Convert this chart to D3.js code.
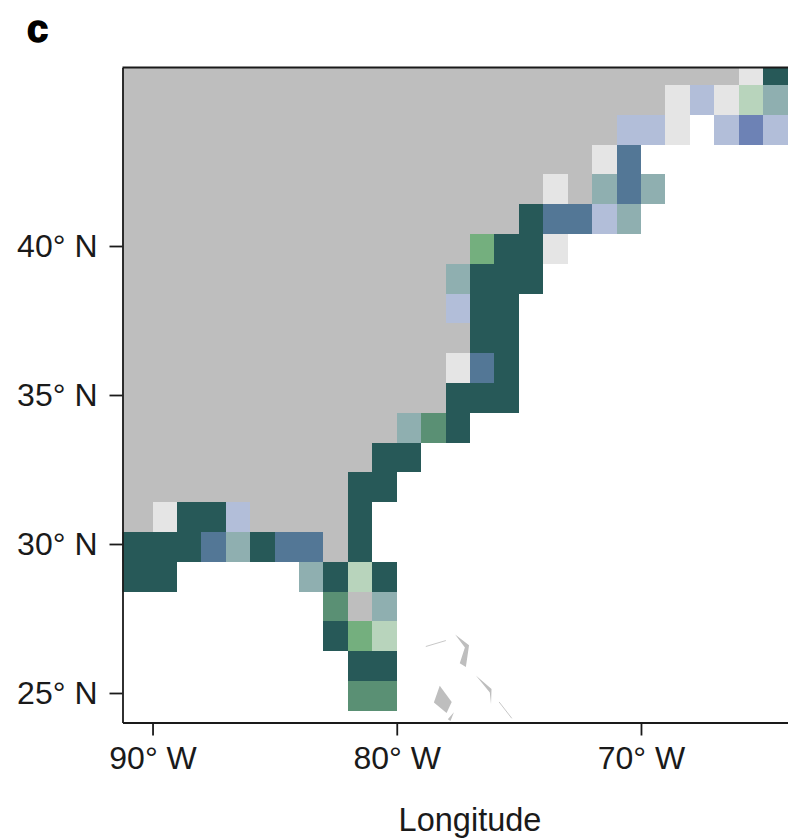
<!DOCTYPE html>
<html lang="en">
    <head>
        <meta charset="utf-8">
        <title>Panel c</title>
        <script src="https://d3js.org/d3.v7.min.js"></script>
        <style type="text/css">
            body { margin: 0; background: #fff; }
            svg { display: block; }
            text { font-family: "Liberation Sans", sans-serif; fill: #1a1a1a; }
            .axis path, .axis line { stroke: #1a1a1a; stroke-width: 1.8px; }
            .axis text { font-family: "Liberation Sans", sans-serif; font-size: 32px; fill: #1a1a1a; }
        </style>
    </head>
    <body>
        <script type="text/javascript">
            const w = 788;
            const h = 838;

            // tick labels
            const lonTicks = [-90, -80, -70];
            const latTicks = [25, 30, 35, 40];

            // grid cells as [west lon, south lat], one array per colour class
            const dark = [[-65, 45.4], [-75, 40.4], [-76, 39.4], [-75, 39.4], [-77, 38.4], [-76, 38.4], [-75, 38.4],
                [-77, 37.4], [-76, 37.4], [-77, 36.4], [-76, 36.4], [-76, 35.4], [-78, 34.4], [-77, 34.4], [-76, 34.4],
                [-78, 33.4], [-81, 32.4], [-80, 32.4], [-82, 31.4], [-81, 31.4], [-89, 30.4], [-88, 30.4], [-82, 30.4],
                [-92, 29.4], [-91, 29.4], [-90, 29.4], [-89, 29.4], [-86, 29.4], [-82, 29.4],
                [-92, 28.4], [-91, 28.4], [-90, 28.4], [-83, 28.4], [-81, 28.4], [-83, 26.4], [-82, 25.4], [-81, 25.4]];
            const midBlue = [[-71, 42.4], [-71, 41.4], [-74, 40.4], [-73, 40.4], [-77, 35.4], [-88, 29.4], [-85, 29.4], [-84, 29.4]];
            const lightBlue = [[-68, 44.4], [-71, 43.4], [-70, 43.4], [-67, 43.4], [-65, 43.4], [-72, 40.4], [-78, 37.4], [-87, 30.4]];
            const deepBlue = [[-66, 43.4]];
            const teal = [[-65, 44.4], [-72, 41.4], [-70, 41.4], [-71, 40.4], [-78, 38.4], [-80, 33.4], [-87, 29.4], [-84, 28.4], [-81, 27.4]];
            const pale = [[-66, 45.4], [-69, 44.4], [-67, 44.4], [-69, 43.4], [-72, 42.4], [-74, 41.4], [-74, 39.4], [-78, 35.4], [-90, 30.4]];
            const green = [[-77, 39.4], [-82, 26.4]];
            const midGreen = [[-79, 33.4], [-83, 27.4], [-82, 24.4], [-81, 24.4]];
            const paleGreen = [[-66, 44.4], [-82, 28.4], [-81, 26.4]];
            const landCell = [[-82, 27.4]];

            // land outline and the small islands, lon/lat
            const land = [[-92, 47], [-66, 47], [-66, 45.4], [-69, 45.4], [-69, 44.4], [-71, 44.4], [-71, 43.4], [-72, 43.4],
                [-72, 41.4], [-75, 41.4], [-75, 40.4], [-77, 40.4], [-77, 35.4], [-78, 35.4], [-78, 34.4], [-80, 34.4],
                [-80, 33.4], [-81, 33.4], [-81, 32.4], [-82, 32.4], [-82, 29.4], [-92, 29.4]];
            const islands = [
                [[-77.61, 26.96], [-77.04, 26.60], [-77.17, 25.87], [-77.42, 26.0], [-77.21, 26.53]],
                [[-76.76, 25.59], [-76.12, 25.13], [-76.14, 24.62], [-76.19, 25.02]],
                [[-78.24, 25.24], [-77.75, 24.70], [-77.96, 24.33], [-78.48, 24.68]],
                [[-77.66, 24.35], [-77.80, 24.06], [-77.91, 24.12]]
            ];
            const islandLines = [
                [[-78.81, 26.56], [-77.99, 26.76]],
                [[-75.81, 24.70], [-75.29, 24.15]]
            ];

            const cellGroups = [
                { cells: dark, color: "#275958" },
                { cells: midBlue, color: "#537796" },
                { cells: lightBlue, color: "#b2bed9" },
                { cells: deepBlue, color: "#6d82b5" },
                { cells: teal, color: "#8fafb0" },
                { cells: pale, color: "#e5e5e5" },
                { cells: green, color: "#74af7e" },
                { cells: midGreen, color: "#5a9074" },
                { cells: paleGreen, color: "#b8d4bc" },
                { cells: landCell, color: "#bebebe" }
            ];

            const xScale = d3.scaleLinear().domain([-91.23, -63.98]).range([122.5, 788]);
            const yScale = d3.scaleLinear().domain([24.01, 45.99]).range([722.5, 67.5]);

            const svg = d3.select("body").append("svg").attr("width", w).attr("height", h);

            svg.append("clipPath").attr("id", "panel").append("rect")
                .attr("x", 122.5).attr("y", 67.5).attr("width", w - 122.5).attr("height", 655);

            const map = svg.append("g").attr("clip-path", "url(#panel)");
            const geoLine = d3.line().x(d => xScale(d[0])).y(d => yScale(d[1]));

            map.append("path")
                .attr("d", geoLine(land) + "Z")
                .attr("fill", "#bebebe")
                .attr("shape-rendering", "crispEdges");

            map.selectAll(".island")
                .data(islands)
                .enter().append("path")
                .attr("class", "island")
                .attr("d", d => geoLine(d) + "Z")
                .attr("fill", "#bebebe");

            map.selectAll(".islandLine")
                .data(islandLines)
                .enter().append("path")
                .attr("class", "islandLine")
                .attr("d", geoLine)
                .attr("fill", "none")
                .attr("stroke", "#c8c8c8")
                .attr("stroke-width", 1);

            cellGroups.forEach(group => {
                map.selectAll(null)
                    .data(group.cells)
                    .enter().append("rect")
                    .attr("x", d => xScale(d[0]))
                    .attr("y", d => yScale(d[1] + 1))
                    .attr("width", d => xScale(d[0] + 1) - xScale(d[0]))
                    .attr("height", d => yScale(d[1]) - yScale(d[1] + 1))
                    .attr("fill", group.color)
                    .attr("shape-rendering", "crispEdges");
            });

            const bottomAxis = d3.axisBottom(xScale)
                .tickValues(lonTicks)
                .tickSize(13)
                .tickSizeOuter(0)
                .tickPadding(11)
                .tickFormat(d => Math.abs(d) + "° W");
            svg.append("g")
                .attr("class", "axis")
                .attr("transform", "translate(0,722.5)")
                .call(bottomAxis);

            const leftAxis = d3.axisLeft(yScale)
                .tickValues(latTicks)
                .tickSize(13)
                .tickSizeOuter(0)
                .tickPadding(12)
                .tickFormat(d => d + "° N");
            svg.append("g")
                .attr("class", "axis")
                .attr("transform", "translate(122.5,0)")
                .call(leftAxis);

            svg.append("line")
                .attr("x1", 122.5).attr("x2", w)
                .attr("y1", 67.5).attr("y2", 67.5)
                .attr("stroke", "#1a1a1a").attr("stroke-width", 1.8);

            svg.append("text")
                .attr("x", 470).attr("y", 831)
                .attr("text-anchor", "middle")
                .style("font-size", "32.5px")
                .text("Longitude");

            svg.append("text")
                .attr("x", 27).attr("y", 41.5)
                .style("font-size", "38px")
                .style("font-weight", "bold")
                .style("fill", "#000")
                .style("stroke", "#000")
                .style("stroke-width", "1.5px")
                .text("c");
        </script>
    </body>
</html>
